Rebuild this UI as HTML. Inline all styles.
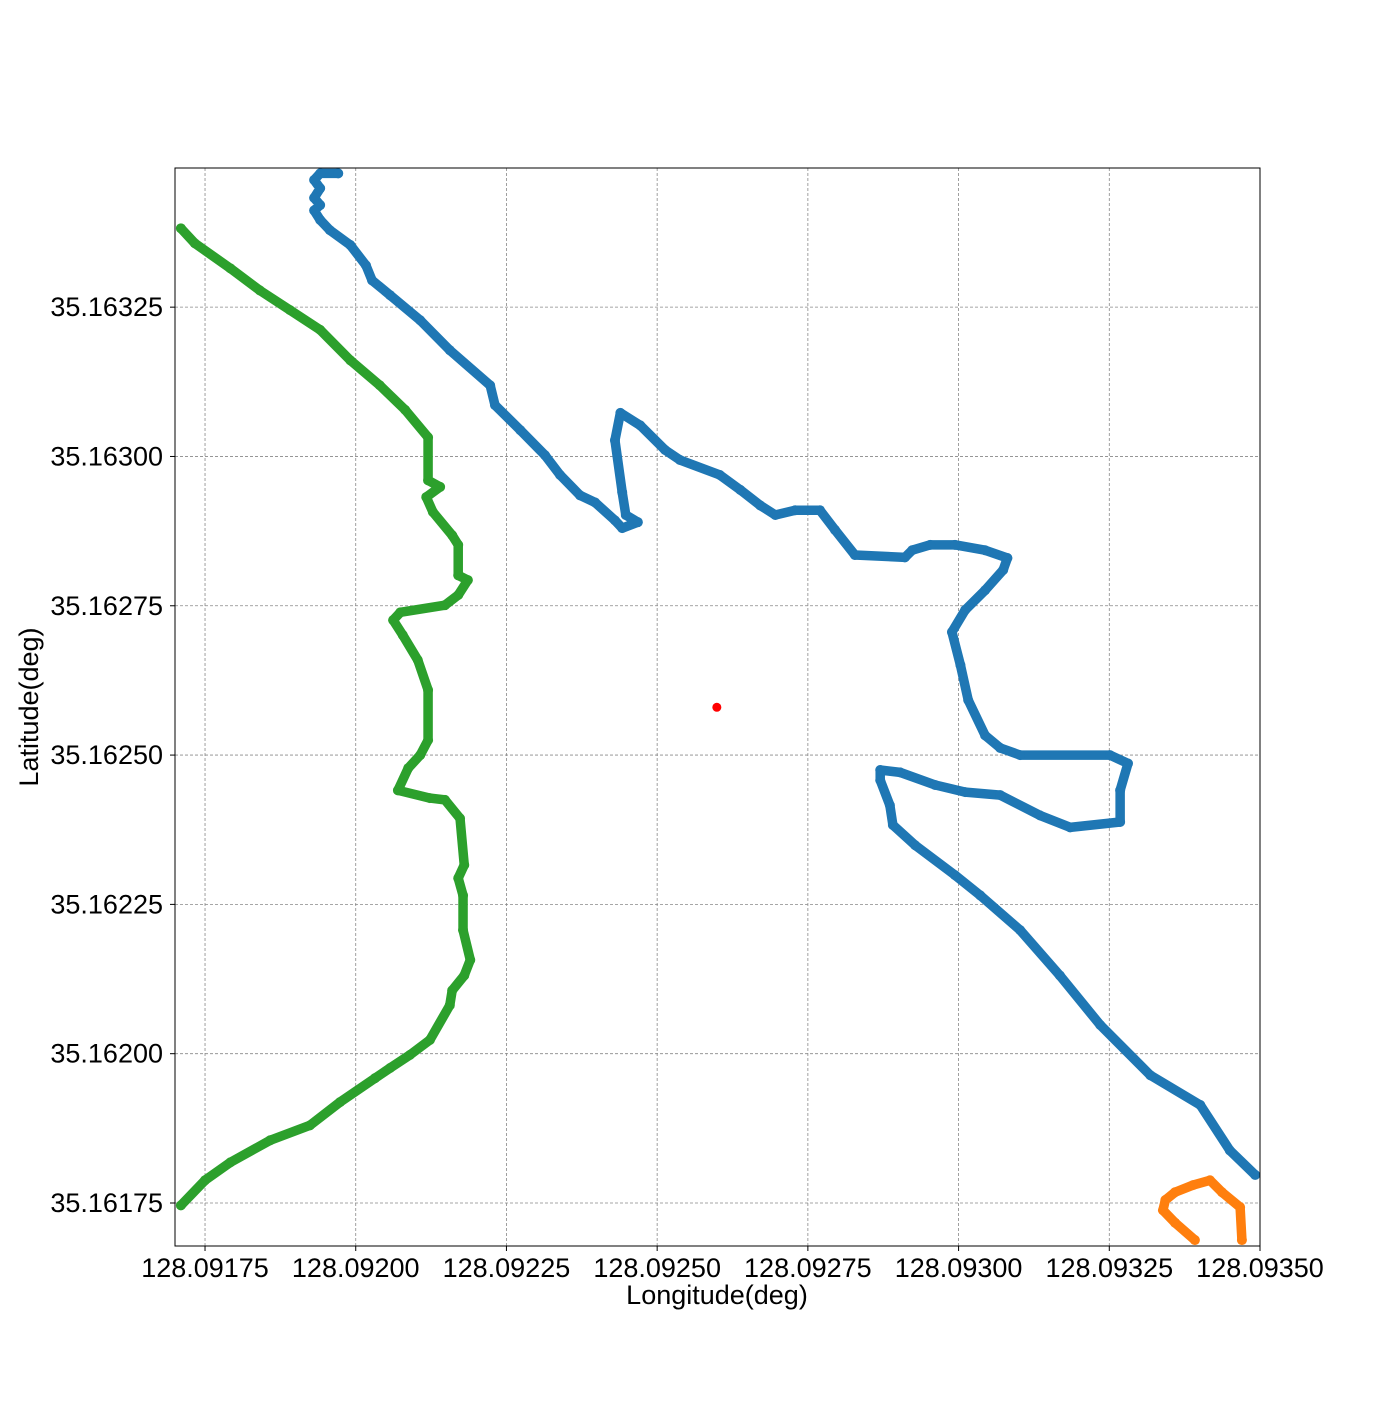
<!DOCTYPE html>
<html><head><meta charset="utf-8"><style>
body{margin:0;background:#fff;}
svg text{font-family:"Liberation Sans",sans-serif;fill:#000;}
</style></head><body>
<svg id="chart" width="1400" height="1400" xmlns="http://www.w3.org/2000/svg">
<rect width="1400" height="1400" fill="#fff"/>
<g id="grid"></g>
<g id="series"></g>
<rect x="175" y="168" width="1085" height="1078" fill="none" stroke="#000" stroke-width="1"/>
<g id="ticks"></g>
<text x="717" y="1304" font-size="27" text-anchor="middle">Longitude(deg)</text>
<text transform="translate(38,707) rotate(-90)" font-size="27" text-anchor="middle">Latitude(deg)</text>
</svg>
<script>
const xTicks=[128.09175,128.092,128.09225,128.0925,128.09275,128.093,128.09325,128.0935];
const xTickLabels=["128.09175","128.09200","128.09225","128.09250","128.09275","128.09300","128.09325","128.09350"];
const yTicks=[35.16325,35.163,35.16275,35.1625,35.16225,35.162,35.16175];
const yTickLabels=["35.16325","35.16300","35.16275","35.16250","35.16225","35.16200","35.16175"];
const blueLon=[128.091971,128.091941,128.091931,128.091941,128.091931,128.091941,128.091931,128.091941,128.091957,128.091991,128.092017,128.092027,128.092057,128.092107,128.092156,128.092223,128.092231,128.092273,128.092314,128.092339,128.092372,128.092397,128.092430,128.092442,128.092468,128.092448,128.092442,128.092430,128.092439,128.092472,128.092513,128.092538,128.092604,128.092638,128.092671,128.092696,128.092729,128.092770,128.092795,128.092828,128.092911,128.092923,128.092953,128.092994,128.093044,128.093081,128.093074,128.093044,128.093011,128.092989,128.093003,128.093016,128.093044,128.093069,128.093102,128.093251,128.093281,128.093268,128.093268,128.093185,128.093135,128.093069,128.093011,128.092961,128.092903,128.092870,128.092870,128.092886,128.092891,128.092928,128.092994,128.093036,128.093102,128.093168,128.093235,128.093318,128.093401,128.093450,128.093492];
const blueLat=[35.163474,35.163474,35.163463,35.163449,35.163433,35.163421,35.163412,35.163396,35.163379,35.163354,35.163320,35.163295,35.163270,35.163228,35.163178,35.163119,35.163086,35.163044,35.163002,35.162969,35.162935,35.162923,35.162893,35.162880,35.162890,35.162902,35.162940,35.163027,35.163073,35.163052,35.163011,35.162994,35.162969,35.162944,35.162918,35.162902,35.162910,35.162910,35.162877,35.162835,35.162831,35.162843,35.162852,35.162852,35.162843,35.162830,35.162810,35.162776,35.162743,35.162706,35.162651,35.162592,35.162533,35.162512,35.162500,35.162500,35.162486,35.162441,35.162388,35.162379,35.162399,35.162433,35.162438,35.162450,35.162471,35.162475,35.162458,35.162416,35.162383,35.162349,35.162299,35.162265,35.162207,35.162131,35.162048,35.161964,35.161914,35.161838,35.161797];
const greenLon=[128.091710,128.091733,128.091792,128.091841,128.091891,128.091941,128.091991,128.092040,128.092082,128.092120,128.092120,128.092140,128.092117,128.092128,128.092160,128.092170,128.092170,128.092186,128.092170,128.092148,128.092074,128.092062,128.092078,128.092103,128.092120,128.092120,128.092107,128.092087,128.092070,128.092123,128.092148,128.092173,128.092180,128.092170,128.092178,128.092178,128.092190,128.092180,128.092160,128.092156,128.092123,128.092090,128.092057,128.092032,128.091974,128.091924,128.091858,128.091792,128.091750,128.091710];
const greenLat=[35.163382,35.163357,35.163315,35.163278,35.163245,35.163212,35.163161,35.163119,35.163078,35.163032,35.162960,35.162949,35.162932,35.162907,35.162868,35.162852,35.162801,35.162793,35.162768,35.162751,35.162739,35.162726,35.162701,35.162659,35.162609,35.162525,35.162500,35.162478,35.162441,35.162428,35.162425,35.162394,35.162316,35.162294,35.162265,35.162207,35.162157,35.162131,35.162106,35.162081,35.162023,35.161998,35.161976,35.161959,35.161919,35.161880,35.161855,35.161818,35.161788,35.161746];
const orangeLon=[128.093392,128.093359,128.093339,128.093343,128.093359,128.093389,128.093417,128.093437,128.093467,128.093470];
const orangeLat=[35.161688,35.161717,35.161738,35.161755,35.161768,35.161780,35.161788,35.161768,35.161743,35.161688];
const centerLon=[128.092599];
const centerLat=[35.162580];

const X0=175,X1=1260,Y0=168,Y1=1246;
const lonMin=128.0917002,lonMax=128.0935,latMin=35.161678,latMax=35.163483;
function sx(v){return X0+(v-lonMin)/(lonMax-lonMin)*(X1-X0);}
function sy(v){return Y1-(v-latMin)/(latMax-latMin)*(Y1-Y0);}
const NS="http://www.w3.org/2000/svg";
function mk(tag,attrs,parent){const e=document.createElementNS(NS,tag);for(const k in attrs)e.setAttribute(k,attrs[k]);parent.appendChild(e);return e;}
const grid=document.getElementById('grid'),ticks=document.getElementById('ticks'),series=document.getElementById('series');
xTicks.forEach((t,i)=>{const x=sx(t);
 const g=mk('line',{x1:x,x2:x,y1:Y0,y2:Y1,stroke:'#888','stroke-width':0.8,'stroke-dasharray':'3,2'},grid);
 
 
 const tk=mk('line',{x1:x,x2:x,y1:Y1,y2:Y1+5,stroke:'#000'},ticks);
 
 
 const tx=mk('text',{x:x,y:Y1+31,'font-size':27,'text-anchor':'middle'},ticks);tx.textContent=xTickLabels[i];
 
 
});
yTicks.forEach((t,i)=>{const y=sy(t);
 const g=mk('line',{x1:X0,x2:X1,y1:y,y2:y,stroke:'#888','stroke-width':0.8,'stroke-dasharray':'3,2'},grid);
 
 
 const tk=mk('line',{x1:X0-5,x2:X0,y1:y,y2:y,stroke:'#000'},ticks);
 
 
 const tx=mk('text',{x:X0-12,y:y+9,'font-size':27,'text-anchor':'end'},ticks);tx.textContent=yTickLabels[i];
 
 
});
function drawTrack(lons,lats,color,name){
 const g=mk('g',{},series);
 
 
 const pts=lons.map((v,i)=>sx(v)+','+sy(lats[i])).join(' ');
 const pl=mk('polyline',{points:pts,fill:'none',stroke:color,'stroke-width':9.5,'stroke-linejoin':'round','stroke-linecap':'round'},g);
 
 
 lons.forEach((v,i)=>{const c=mk('circle',{cx:sx(v),cy:sy(lats[i]),r:5,fill:color},g);
  
  });
}
drawTrack(blueLon,blueLat,'#1f77b4','blue-track');
drawTrack(orangeLon,orangeLat,'#ff7f0e','orange-track');
drawTrack(greenLon,greenLat,'#2ca02c','green-track');
centerLon.forEach((v,i)=>{const c=mk('circle',{cx:sx(v),cy:sy(centerLat[i]),r:4.5,fill:'#ff0000'},series);
 
 });
</script>
</body></html>
